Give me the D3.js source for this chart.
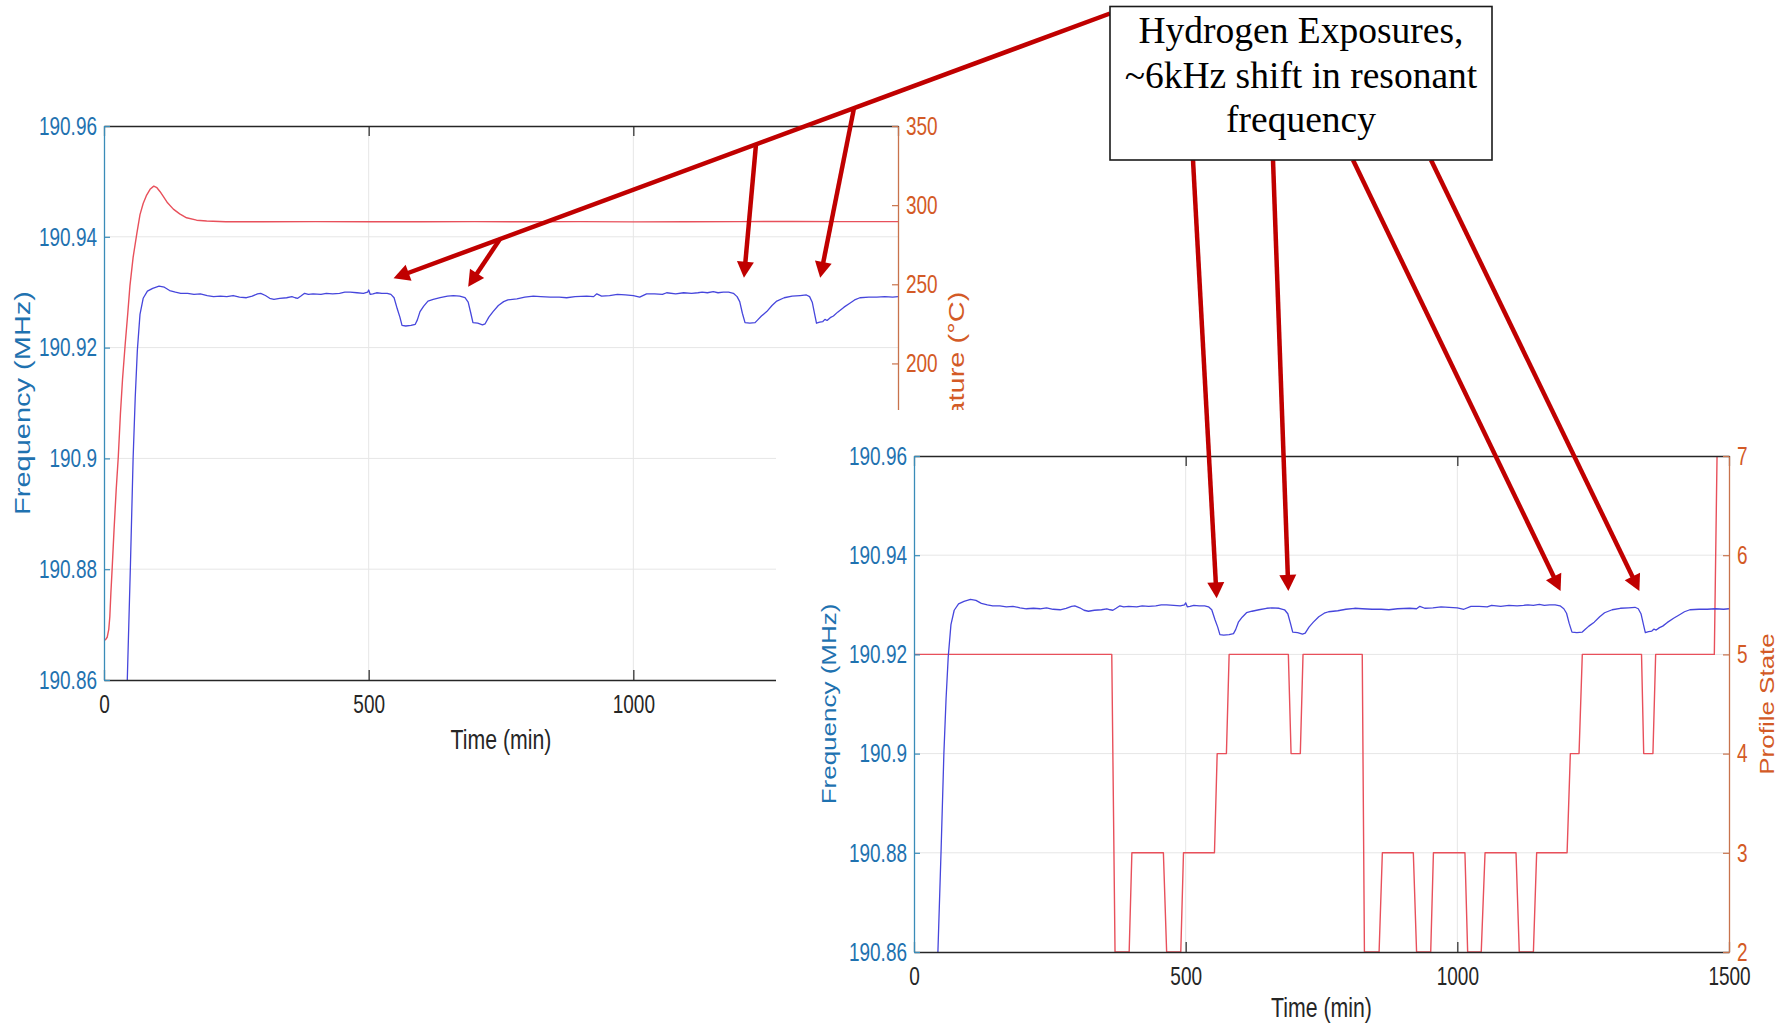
<!DOCTYPE html>
<html>
<head>
<meta charset="utf-8">
<script src="https://cdn.jsdelivr.net/npm/d3@7"></script>
<style>
  body { margin: 0; background: #fff; }
  svg { display: block; }
</style>
</head>
<body>
<svg id="fig" width="1786" height="1023"></svg>
<script>
// ---------------- data ----------------
// resonant frequency of the sensor (MHz) against time (min)
const freqTime = [44, 50, 55, 59, 63, 68, 74, 82, 92, 104, 114, 124, 135, 145, 158, 170, 182, 195, 207, 220,
  232, 244, 256, 269, 280, 290, 296, 305, 313, 321, 332, 345, 355, 361, 366, 372, 379, 386, 395, 410,
  420, 432, 445, 455, 465, 478, 490, 498, 500, 503, 508, 515, 525, 535, 542, 548, 554, 559, 563, 570,
  580, 588, 592, 597, 604, 612, 622, 635, 649, 660, 672, 682, 688, 693, 697, 706, 715, 720, 727, 735,
  745, 755, 763, 780, 795, 811, 825, 843, 860, 874, 890, 912, 925, 931, 940, 955, 970, 985, 1000, 1012,
  1025, 1040, 1055, 1063, 1080, 1095, 1110, 1122, 1130, 1140, 1151, 1160, 1170, 1180, 1189, 1196, 1201, 1206, 1211, 1220,
  1230, 1235, 1242, 1252, 1262, 1271, 1285, 1300, 1315, 1327, 1333, 1338, 1343, 1346, 1352, 1358, 1362, 1366, 1372, 1378,
  1386, 1398, 1409, 1418, 1428, 1445, 1460, 1475, 1490, 1500];
const freqMHz = [190.8600, 190.8810, 190.9000, 190.9110, 190.9195, 190.9260, 190.9289, 190.9302, 190.9307, 190.9311,
  190.9309, 190.9303, 190.9300, 190.9298, 190.9298, 190.9296, 190.9297, 190.9294, 190.9292, 190.9293,
  190.9292, 190.9294, 190.9291, 190.9290, 190.9293, 190.9297, 190.9298, 190.9294, 190.9289, 190.9287,
  190.9289, 190.9290, 190.9292, 190.9290, 190.9289, 190.9293, 190.9298, 190.9296, 190.9297, 190.9296,
  190.9298, 190.9297, 190.9298, 190.9300, 190.9300, 190.9299, 190.9298, 190.9300, 190.9304, 190.9296,
  190.9297, 190.9299, 190.9298, 190.9298, 190.9296, 190.9290, 190.9270, 190.9255, 190.9240, 190.9239,
  190.9240, 190.9242, 190.9250, 190.9265, 190.9275, 190.9284, 190.9287, 190.9290, 190.9293, 190.9294,
  190.9293, 190.9290, 190.9282, 190.9262, 190.9245, 190.9244, 190.9241, 190.9243, 190.9255, 190.9265,
  190.9276, 190.9283, 190.9286, 190.9288, 190.9291, 190.9293, 190.9292, 190.9291, 190.9291, 190.9290,
  190.9292, 190.9293, 190.9292, 190.9297, 190.9293, 190.9294, 190.9296, 190.9295, 190.9294, 190.9291,
  190.9297, 190.9297, 190.9296, 190.9299, 190.9297, 190.9299, 190.9298, 190.9299, 190.9300, 190.9299,
  190.9301, 190.9299, 190.9300, 190.9300, 190.9298, 190.9292, 190.9283, 190.9262, 190.9245, 190.9244,
  190.9245, 190.9250, 190.9257, 190.9265, 190.9276, 190.9284, 190.9290, 190.9293, 190.9294, 190.9295,
  190.9292, 190.9282, 190.9258, 190.9244, 190.9246, 190.9247, 190.9251, 190.9249, 190.9254, 190.9257,
  190.9264, 190.9273, 190.9280, 190.9286, 190.9290, 190.9291, 190.9291, 190.9292, 190.9291, 190.9292];

// heater temperature (°C) against time (min)
const tempTime = [0, 3, 6, 9, 11, 13, 15.5, 19, 23, 27, 31, 35, 40, 45, 49, 55, 62, 68, 74, 80,
  87, 94, 100, 106, 112, 120, 131, 143, 156, 175, 194, 230, 300, 400, 500, 600, 700, 800, 900, 1000,
  1100, 1200, 1300, 1400, 1500];
const tempC = [25, 25.5, 27, 32, 40, 55, 71, 95, 120, 141, 168, 190, 212, 232, 249, 267, 282, 294, 301, 306,
  310, 312, 311, 308.5, 305.5, 301.5, 297.5, 294.5, 292, 290.5, 290, 289.5, 289.5, 289.6, 289.5, 289.5, 289.6, 289.5, 289.6, 289.4,
  289.5, 289.6, 289.7, 289.6, 289.6];

// gas profile state against time (min)
const stateTime = [0, 364, 370, 396, 401, 459, 465, 491, 496, 553, 558, 575, 580, 689, 694, 711, 716, 825, 829, 856,
  862, 919, 925, 951, 956, 1014, 1019, 1044, 1051, 1108, 1114, 1140, 1146, 1202, 1208, 1224, 1230, 1339, 1343, 1360,
  1365, 1473, 1478, 1500];
const profileState = [5, 5, 2, 2, 3, 3, 2, 2, 3, 3, 4, 4, 5, 5, 4, 4, 5, 5, 2, 2,
  3, 3, 2, 2, 3, 3, 2, 2, 3, 3, 2, 2, 3, 3, 4, 4, 5, 5, 4, 4,
  5, 5, 7, 7];

// axis ticks
const timeTicks = [0, 500, 1000, 1500];
const freqTicks = [190.86, 190.88, 190.9, 190.92, 190.94, 190.96];
const tempTicks = [0, 50, 100, 150, 200, 250, 300, 350];
const stateTicks = [2, 3, 4, 5, 6, 7];

// hydrogen exposure call-outs: [time (min), frequency (MHz)] of each arrow tip
const exposureTipsTop = [[547, 190.9325], [688, 190.9310], [1209, 190.9326], [1353, 190.9326]];
const exposureTipsBottom = [[557, 190.9313], [689, 190.9328], [1190, 190.9328], [1335, 190.9328]];
const calloutLines = ["Hydrogen Exposures,", "~6kHz shift in resonant", "frequency"];

// ---------------- drawing ----------------
const svg = d3.select("#fig");
const SANS = "'Liberation Sans', Arial, Helvetica, sans-serif";
const SERIF = "'Liberation Serif', 'Times New Roman', serif";
const SQ = 0.76;   // lettering of the plots is narrow: squeeze horizontally
const C = {
  left: "#1f72b0", leftAxis: "#3a8cb8",
  right: "#d35a26", rightAxis: "#c8734c",
  ink: "#262626", grid: "#e6e6e6",
  freq: "#4646dc", red: "#e8505b", arrow: "#c00000"
};

const fmtFreq = d => String(+d.toFixed(2));

function hLabel(g, x, y, text, size, color) {
  g.append("text")
    .attr("transform", `translate(${x},${y}) scale(${SQ},1)`)
    .attr("text-anchor", "middle")
    .attr("font-family", SANS).attr("font-size", size)
    .attr("fill", color).text(text);
}
function vLabel(g, x, y, text, size, color) {
  g.append("text")
    .attr("transform", `translate(${x},${y}) scale(${SQ},1) rotate(-90)`)
    .attr("text-anchor", "middle")
    .attr("font-family", SANS).attr("font-size", size)
    .attr("fill", color).text(text);
}

function panel(id, box, right) {
  const g = svg.append("g").attr("id", id);
  const x = d3.scaleLinear().domain([0, 1500]).range([box.l, box.r]);
  const y = d3.scaleLinear().domain([190.86, 190.96]).range([box.b, box.t]);
  const y2 = d3.scaleLinear().domain(right.domain).range([box.b, box.t]);

  // grid
  g.append("g").selectAll("line").data(freqTicks.slice(1, -1)).join("line")
    .attr("x1", box.l).attr("x2", box.r)
    .attr("y1", d => y(d)).attr("y2", d => y(d))
    .attr("stroke", C.grid).attr("stroke-width", 1);
  g.append("g").selectAll("line").data(timeTicks.slice(1, -1)).join("line")
    .attr("y1", box.t).attr("y2", box.b)
    .attr("x1", d => x(d)).attr("x2", d => x(d))
    .attr("stroke", C.grid).attr("stroke-width", 1);

  // data
  g.append("clipPath").attr("id", id + "-clip").append("rect")
    .attr("x", box.l).attr("y", box.t).attr("width", box.r - box.l).attr("height", box.b - box.t);
  const plot = g.append("g").attr("clip-path", `url(#${id}-clip)`);

  const rightLine = d3.line().x(d => x(d[0])).y(d => y2(d[1]));
  plot.append("path")
    .datum(d3.zip(right.time, right.values))
    .attr("d", rightLine)
    .attr("fill", "none").attr("stroke", C.red).attr("stroke-width", 1.4)
    .attr("stroke-linejoin", "round");

  const freqLine = d3.line().x(d => x(d[0])).y(d => y(d[1]));
  plot.append("path")
    .datum(d3.zip(freqTime, freqMHz))
    .attr("d", freqLine)
    .attr("fill", "none").attr("stroke", C.freq).attr("stroke-width", 1.3)
    .attr("stroke-linejoin", "round");

  // axes
  const styleAxis = (sel, color, textColor) => {
    sel.attr("font-family", SANS).attr("font-size", 25);
    sel.select(".domain").attr("stroke", color).attr("stroke-width", 1.3);
    sel.selectAll(".tick line").attr("stroke", color).attr("stroke-width", 1.2);
    sel.selectAll(".tick text").attr("fill", textColor);
  };

  const top = g.append("g").attr("transform", `translate(0,${box.t})`)
    .call(d3.axisTop(x).tickValues(timeTicks).tickSizeInner(-10).tickSizeOuter(0).tickFormat(""));
  styleAxis(top, C.ink, C.ink);

  const bottom = g.append("g").attr("transform", `translate(0,${box.b})`)
    .call(d3.axisBottom(x).tickValues(timeTicks).tickSizeInner(-10).tickSizeOuter(0).tickFormat(d3.format("d")));
  styleAxis(bottom, C.ink, C.ink);
  bottom.selectAll(".tick text").attr("y", 33).attr("dy", null)
    .attr("transform", `scale(${SQ},1)`);

  const left = g.append("g").attr("transform", `translate(${box.l},0)`)
    .call(d3.axisLeft(y).tickValues(freqTicks).tickSizeInner(-6).tickSizeOuter(0).tickFormat(fmtFreq));
  styleAxis(left, C.leftAxis, C.left);
  left.selectAll(".tick text").attr("x", -7 / SQ).attr("dy", "0.33em")
    .attr("transform", `scale(${SQ},1)`);

  const rightAx = g.append("g").attr("transform", `translate(${box.r},0)`)
    .call(d3.axisRight(y2).tickValues(right.ticks).tickSizeInner(-6).tickSizeOuter(0).tickFormat(d3.format("d")));
  styleAxis(rightAx, C.rightAxis, C.right);
  rightAx.selectAll(".tick text").attr("x", 8 / SQ).attr("dy", "0.33em")
    .attr("transform", `scale(${SQ},1)`);

  // titles
  hLabel(g, (box.l + box.r) / 2, box.timeLabelY, "Time (min)", 28, C.ink);
  vLabel(g, box.leftLabelX, (box.t + box.b) / 2, "Frequency (MHz)", box.ylabelSize, C.left);
  vLabel(g, box.rightLabelX, (box.t + box.b) / 2, right.label, box.ylabelSize, C.right);

  return { x, y, g };
}

// first figure: frequency with heater temperature
const topPanel = panel("temperature-figure",
  { l: 104, r: 898, t: 126, b: 680, timeLabelY: 749, leftLabelX: 29.5, rightLabelX: 963.5, ylabelSize: 29 },
  { domain: [0, 350], ticks: tempTicks, time: tempTime, values: tempC, label: "Temperature (°C)" });

// second figure laid over the first one
svg.append("rect").attr("x", 776).attr("y", 410).attr("width", 1786 - 776).attr("height", 1023 - 410)
  .attr("fill", "#fff");

const bottomPanel = panel("profile-figure",
  { l: 914, r: 1729, t: 456, b: 952, timeLabelY: 1016.5, leftLabelX: 836, rightLabelX: 1774, ylabelSize: 26 },
  { domain: [2, 7], ticks: stateTicks, time: stateTime, values: profileState, label: "Profile State" });

// ---------------- call-out arrows ----------------
const arrows = svg.append("g").attr("id", "callout-arrows");
function arrow(x0, y0, x1, y1) {
  const dx = x1 - x0, dy = y1 - y0, len = Math.hypot(dx, dy);
  const ux = dx / len, uy = dy / len, hl = 16, hw = 8.5;
  const bx = x1 - ux * hl, by = y1 - uy * hl;
  arrows.append("line")
    .attr("x1", x0).attr("y1", y0).attr("x2", bx + ux * 2).attr("y2", by + uy * 2)
    .attr("stroke", C.arrow).attr("stroke-width", 4.5);
  arrows.append("path")
    .attr("d", `M${x1},${y1}L${bx - uy * hw},${by + ux * hw}L${bx + uy * hw},${by - ux * hw}Z`)
    .attr("fill", C.arrow);
}

const box = { x: 1110, y: 6.5, w: 382, h: 153.5 };

// upper figure: one long arrow from the box, three branches leaving it
const tipsTop = exposureTipsTop.map(([t, f]) => [topPanel.x(t), topPanel.y(f)]);
const mainTail = [box.x, 13.5];
const onMain = px => {
  const k = (px - tipsTop[0][0]) / (mainTail[0] - tipsTop[0][0]);
  return [px, tipsTop[0][1] + k * (mainTail[1] - tipsTop[0][1])];
};
arrow(mainTail[0], mainTail[1], tipsTop[0][0], tipsTop[0][1]);
[500, 756, 854].forEach((px, i) => {
  const [sx, sy] = onMain(px);
  arrow(sx, sy, tipsTop[i + 1][0], tipsTop[i + 1][1]);
});

// lower figure: four arrows straight out of the box
const tailsBottom = [1193, 1273, 1353, 1431];
exposureTipsBottom.forEach(([t, f], i) => {
  arrow(tailsBottom[i], box.y + box.h, bottomPanel.x(t), bottomPanel.y(f));
});

// ---------------- call-out box ----------------
const callout = svg.append("g").attr("id", "callout");
callout.append("rect")
  .attr("x", box.x).attr("y", box.y).attr("width", box.w).attr("height", box.h)
  .attr("fill", "#fff").attr("stroke", "#1a1a1a").attr("stroke-width", 1.6);
callout.selectAll("text").data(calloutLines).join("text")
  .attr("x", box.x + box.w / 2)
  .attr("y", (d, i) => 43 + i * 44.5)
  .attr("text-anchor", "middle")
  .attr("font-family", SERIF).attr("font-size", 37.5)
  .attr("fill", "#000")
  .text(d => d);
</script>
</body>
</html>
